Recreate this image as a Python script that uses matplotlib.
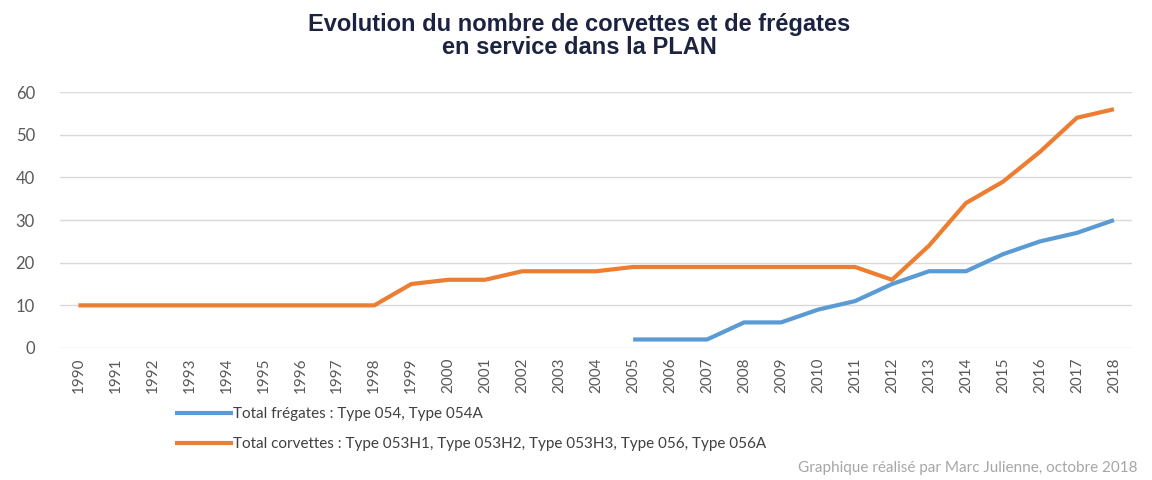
import numpy as np
import matplotlib.pyplot as plt

years = list(range(1990, 2019))
corvettes = [10, 10, 10, 10, 10, 10, 10, 10, 10, 15, 16, 16, 18, 18, 18,
             19, 19, 19, 19, 19, 19, 19, 16, 24, 34, 39, 46, 54, 56]
fregates_years = list(range(2005, 2019))
fregates = [2, 2, 2, 6, 6, 9, 11, 15, 18, 18, 22, 25, 27, 30]

lbl_freg = "Total frégates : Type 054, Type 054A"
lbl_corv = "Total corvettes : Type 053H1, Type 053H2, Type 053H3, Type 056, Type 056A"

blue = "#5B9BD5"
orange = "#ED7D31"
grey = "#595959"

plt.rcParams["xtick.major.pad"] = 7
plt.rcParams["ytick.major.pad"] = 18
plt.rcParams["xtick.major.size"] = 0
plt.rcParams["ytick.major.size"] = 0

fig = plt.figure(figsize=(11.52, 4.8), dpi=100)
ax = fig.add_axes([0.052, 0.275, 0.931, 0.533])

l1, = ax.plot(fregates_years, fregates, color=blue, lw=3, solid_capstyle="butt")
l2, = ax.plot(years, corvettes, color=orange, lw=3, solid_capstyle="butt")

ax.set_xlim(1989.5, 2018.5)
ax.set_ylim(0, 60)
ax.set_yticks(range(0, 61, 10))
ax.set_xticks(years)
ax.set_xticklabels([str(y) for y in years], rotation=90, family="Lato",
                   fontsize=11, color=grey)
ax.set_yticklabels([str(v) for v in range(0, 61, 10)], family="Lato",
                   fontsize=12, color=grey)
ax.grid(axis="y", color="#D9D9D9", lw=1)
ax.set_axisbelow(True)
for s in ax.spines.values():
    s.set_visible(False)

fig.text(0.503, 0.925, "Evolution du nombre de corvettes et de frégates\nen service dans la PLAN",
         ha="center", va="center", fontsize=17, fontweight="bold",
         family="Liberation Sans", color="#1C2340", linespacing=0.95)

fig.legend([l1, l2], [lbl_freg, lbl_corv], loc="upper left",
           bbox_to_anchor=(0.152, 0.152), frameon=False, handlelength=3.8,
           handletextpad=0.0, labelspacing=1.05,
           prop={"family": "Lato", "size": 11}, labelcolor="#404040",
           borderaxespad=0, borderpad=0)

fig.text(0.987, 0.025, "Graphique réalisé par Marc Julienne, octobre 2018",
         ha="right", va="center", fontsize=11, family="Lato", color="#A6A6A6")

fig.savefig("out.png", dpi=100)
